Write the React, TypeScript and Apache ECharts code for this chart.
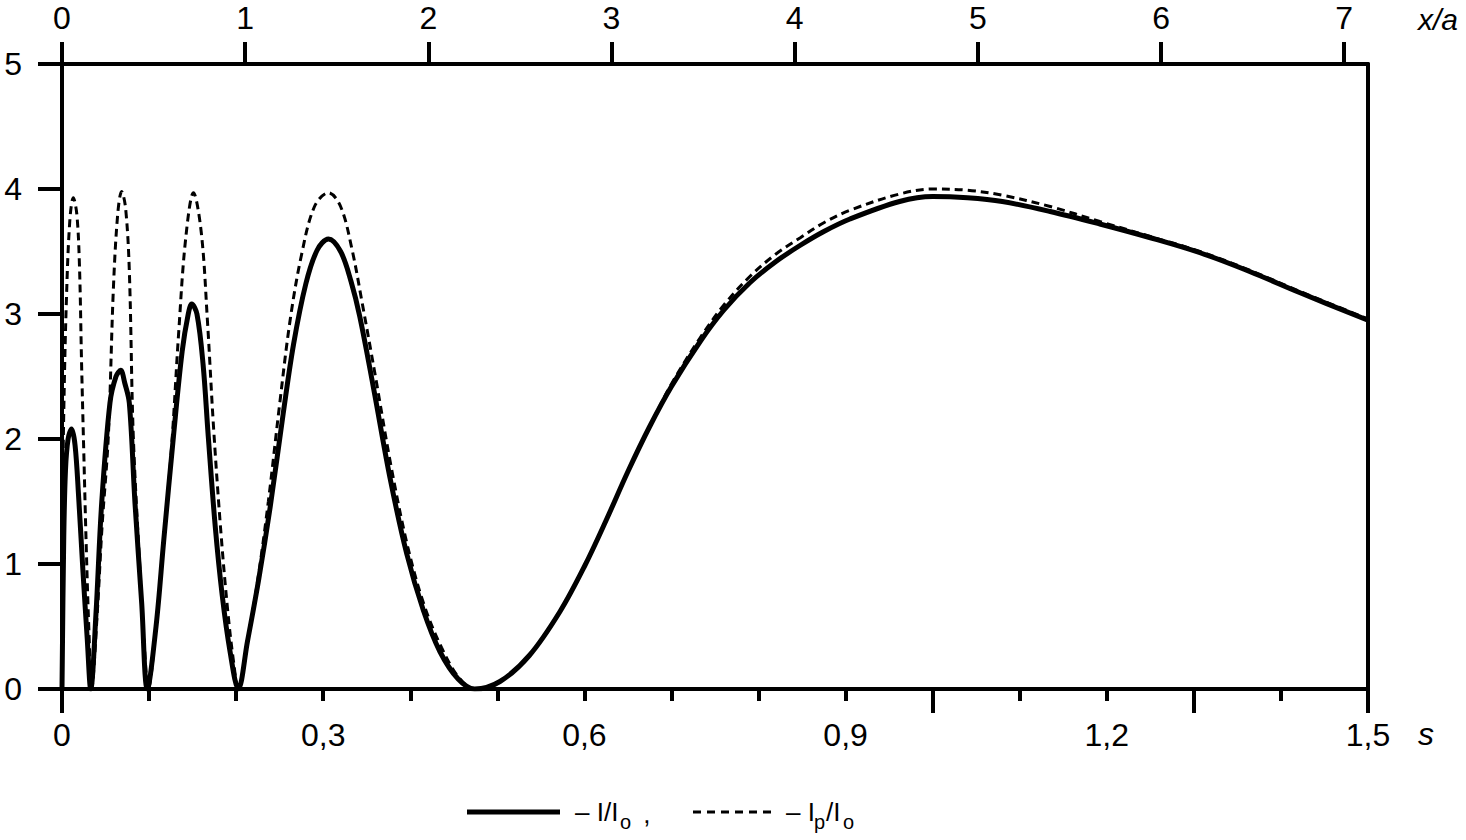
import React, { useEffect, useRef } from "react";
import * as echarts from "echarts";

// s values and I/I0 (solid)
const sSolid = [
  0, 0.002, 0.004, 0.007, 0.011, 0.015, 0.019, 0.024, 0.029, 0.033,
  0.039, 0.0456, 0.0551, 0.062, 0.0674, 0.072, 0.0773, 0.0838, 0.0915, 0.098,
  0.108, 0.117, 0.128, 0.138, 0.145, 0.149, 0.155, 0.162, 0.168, 0.176, 0.184, 0.193, 0.2025,
  0.213, 0.226, 0.239, 0.254, 0.266, 0.28, 0.293, 0.306, 0.32, 0.332, 0.342, 0.358, 0.377, 0.396, 0.415, 0.434, 0.455, 0.474,
  0.503, 0.537, 0.572, 0.6, 0.625, 0.65, 0.675, 0.7, 0.733, 0.76, 0.79, 0.82, 0.848, 0.875, 0.905, 0.962, 1.0, 1.04, 1.08, 1.135, 1.192, 1.25, 1.307, 1.364, 1.422, 1.5,
];
const vSolid = [
  0, 1.2, 1.75, 2.0, 2.08, 1.95, 1.55, 0.95, 0.4, 0,
  0.6, 1.49, 2.29, 2.5, 2.55, 2.45, 2.29, 1.49, 0.69, 0,
  0.5, 1.2, 2.02, 2.7, 3.0, 3.08, 3.0, 2.6, 2.02, 1.3, 0.75, 0.3, 0,
  0.38, 0.88, 1.45, 2.2, 2.76, 3.24, 3.51, 3.6, 3.5, 3.26, 2.98, 2.4, 1.68, 1.08, 0.63, 0.3, 0.08, 0,
  0.06, 0.27, 0.62, 0.98, 1.35, 1.74, 2.1, 2.42, 2.78, 3.03, 3.25, 3.42, 3.55, 3.66, 3.76, 3.9, 3.94, 3.93, 3.9, 3.82, 3.72, 3.61, 3.49, 3.34, 3.17, 2.95,
];

// s values and Ip/I0 (dashed)
const sDashed = [
  0, 0.002, 0.005, 0.009, 0.013, 0.017, 0.02, 0.0225, 0.025, 0.028, 0.031, 0.034,
  0.04, 0.046, 0.0532, 0.059, 0.064, 0.0685, 0.073, 0.0773, 0.0819, 0.0896, 0.095, 0.099,
  0.108, 0.117, 0.126, 0.134, 0.142, 0.151, 0.16, 0.167, 0.174, 0.182, 0.19, 0.197, 0.2025,
  0.213, 0.225, 0.237, 0.25, 0.262, 0.275, 0.29, 0.306, 0.32, 0.333, 0.345, 0.36, 0.378, 0.397, 0.416, 0.436, 0.456, 0.474,
  0.503, 0.537, 0.572, 0.6, 0.625, 0.65, 0.675, 0.7, 0.733, 0.76, 0.79, 0.82, 0.848, 0.875, 0.905, 0.962, 1.0, 1.04, 1.08, 1.135, 1.192, 1.25, 1.307, 1.364, 1.422, 1.5,
];
const vDashed = [
  1.2, 2.2, 3.1, 3.75, 3.93, 3.8, 3.4, 2.6, 1.9, 1.1, 0.45, 0,
  0.55, 1.3, 2.02, 3.2, 3.8, 3.98, 3.85, 3.35, 2.02, 0.95, 0.3, 0,
  0.5, 1.2, 1.95, 2.85, 3.6, 3.97, 3.65, 2.95, 2.1, 1.3, 0.65, 0.22, 0,
  0.38, 0.88, 1.5, 2.28, 2.95, 3.47, 3.86, 3.97, 3.86, 3.52, 3.08, 2.5, 1.78, 1.14, 0.67, 0.33, 0.09, 0,
  0.06, 0.27, 0.62, 0.98, 1.35, 1.74, 2.1, 2.44, 2.81, 3.07, 3.3, 3.48, 3.61, 3.73, 3.83, 3.96, 4.0, 3.99, 3.95, 3.86, 3.74, 3.62, 3.5, 3.35, 3.18, 2.96,
];

// tick labels
const sLabels = [0, 0.3, 0.6, 0.9, 1.2, 1.5];
const sMinorTicks = [0.1, 0.2, 0.3, 0.4, 0.5, 0.6, 0.7, 0.8, 0.9, 1.1, 1.2, 1.4];
const sLongTicks = [0, 1.0, 1.3, 1.5];
const xaMax = 7.13;

const FONT = "'Liberation Sans', Arial, sans-serif";

export default function App() {
  const ref = useRef<HTMLDivElement>(null);
  useEffect(() => {
    if (!ref.current) return;
    const chart = echarts.init(ref.current, undefined, { renderer: "svg" });
    const lineStyleAxis = { color: "#000", width: 4 };
    const option: any = {
      animation: false,
      backgroundColor: "#fff",
      grid: { left: 62, top: 64, right: 98, bottom: 151, containLabel: false },
      xAxis: [
        {
          type: "value",
          position: "bottom",
          min: 0,
          max: 1.5,
          axisLine: { show: true, onZero: false, lineStyle: lineStyleAxis },
          axisTick: { show: true, inside: false, length: 12, lineStyle: { color: "#000", width: 4 }, customValues: sMinorTicks },
          axisLabel: {
            show: true,
            customValues: sLabels,
            margin: 30,
            color: "#000",
            fontFamily: FONT,
            fontSize: 32,
            formatter: (v: number) => (v === 0 ? "0" : v.toFixed(1).replace(".", ",")),
          },
          splitLine: { show: false },
        },
        {
          type: "value",
          position: "bottom",
          min: 0,
          max: 1.5,
          axisLine: { show: false },
          axisTick: { show: true, inside: false, length: 24, lineStyle: { color: "#000", width: 4 }, customValues: sLongTicks },
          axisLabel: { show: false },
          splitLine: { show: false },
        },
        {
          type: "value",
          position: "top",
          min: 0,
          max: xaMax,
          interval: 1,
          axisLine: { show: true, onZero: false, lineStyle: lineStyleAxis },
          axisTick: { show: true, inside: false, length: 22, lineStyle: { color: "#000", width: 4 } },
          axisLabel: {
            show: true,
            margin: 30,
            color: "#000",
            fontFamily: FONT,
            fontSize: 32,
            showMaxLabel: false,
            formatter: (v: number) => (Math.abs(v - Math.round(v)) < 1e-6 ? String(Math.round(v)) : ""),
          },
          splitLine: { show: false },
        },
      ],
      yAxis: [
        {
          type: "value",
          position: "left",
          min: 0,
          max: 5,
          interval: 1,
          axisLine: { show: true, onZero: false, lineStyle: lineStyleAxis },
          axisTick: { show: true, inside: false, length: 24, lineStyle: { color: "#000", width: 4 } },
          axisLabel: { show: true, margin: 40, color: "#000", fontFamily: FONT, fontSize: 32 },
          splitLine: { show: false },
        },
        {
          type: "value",
          position: "right",
          min: 0,
          max: 5,
          axisLine: { show: true, onZero: false, lineStyle: lineStyleAxis },
          axisTick: { show: false },
          axisLabel: { show: false },
          splitLine: { show: false },
        },
      ],
      series: [
        {
          type: "line",
          name: "I/Io",
          xAxisIndex: 0,
          yAxisIndex: 0,
          data: sSolid.map((s, i) => [s, vSolid[i]]),
          showSymbol: false,
          smooth: 0.35,
          lineStyle: { color: "#000", width: 5, type: "solid" },
          z: 3,
        },
        {
          type: "line",
          name: "Ip/Io",
          xAxisIndex: 0,
          yAxisIndex: 0,
          data: sDashed.map((s, i) => [s, vDashed[i]]),
          showSymbol: false,
          smooth: 0.35,
          lineStyle: { color: "#000", width: 3, type: [8, 5] },
          z: 2,
        },
      ],
      graphic: [
        { type: "text", left: 1418, top: 4, style: { text: "x/a", fontFamily: FONT, fontSize: 30, fontStyle: "italic", fill: "#000" } },
        { type: "text", left: 1418, top: 718, style: { text: "s", fontFamily: FONT, fontSize: 32, fontStyle: "italic", fill: "#000" } },
        { type: "line", shape: { x1: 467, y1: 812, x2: 560, y2: 812 }, style: { stroke: "#000", lineWidth: 5 } },
        { type: "text", x: 575, y: 812, style: { text: "– I/I", fontFamily: FONT, fontSize: 26, fill: "#000", verticalAlign: "middle" } },
        { type: "text", x: 620, y: 822, style: { text: "o", fontFamily: FONT, fontSize: 20, fill: "#000", verticalAlign: "middle" } },
        { type: "text", x: 636, y: 814, style: { text: " ,", fontFamily: FONT, fontSize: 26, fill: "#000", verticalAlign: "middle" } },
        { type: "line", shape: { x1: 693, y1: 812, x2: 773, y2: 812 }, style: { stroke: "#000", lineWidth: 3, lineDash: [8, 6] } },
        { type: "text", x: 786, y: 812, style: { text: "– I", fontFamily: FONT, fontSize: 26, fill: "#000", verticalAlign: "middle" } },
        { type: "text", x: 814, y: 822, style: { text: "p", fontFamily: FONT, fontSize: 20, fill: "#000", verticalAlign: "middle" } },
        { type: "text", x: 826, y: 812, style: { text: "/I", fontFamily: FONT, fontSize: 26, fill: "#000", verticalAlign: "middle" } },
        { type: "text", x: 843, y: 822, style: { text: "o", fontFamily: FONT, fontSize: 20, fill: "#000", verticalAlign: "middle" } },
      ],
    };
    chart.setOption(option);
    return () => chart.dispose();
  }, []);
  return <div ref={ref} style={{ position: "absolute", left: 0, top: 0, width: 1466, height: 840, background: "#fff" }} />;
}
